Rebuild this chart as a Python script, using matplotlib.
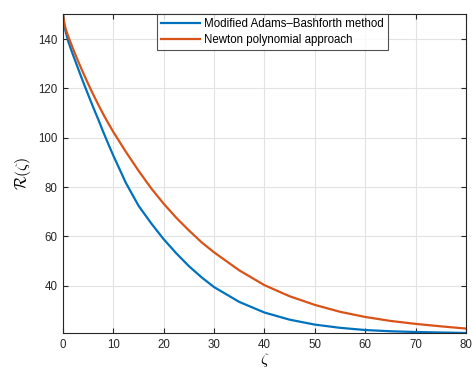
import matplotlib
matplotlib.use("Agg")
import matplotlib.pyplot as plt

plt.rcParams['font.family'] = ['Liberation Sans', 'DejaVu Sans']
plt.rcParams['mathtext.fontset'] = 'cm'

zeta = [0, 0.25, 0.5, 1, 1.5, 2, 3, 4, 5, 6, 7, 8, 9, 10, 12.5, 15, 17.5, 20, 22.5,
        25, 27.5, 30, 35, 40, 45, 50, 55, 60, 65, 70, 75, 80]
blue_vals = [150, 145.8, 143.2, 139.3, 136.3, 133.5, 128.0, 122.6, 117.4, 112.3, 107.4,
             102.3, 97.4, 92.7, 81.6, 72.4, 65.3, 58.8, 53.1, 47.9, 43.4, 39.4, 33.4,
             29.1, 26.2, 24.2, 22.9, 22.0, 21.5, 21.2, 21.0, 20.8]
orange_vals = [150, 146.5, 144.3, 141.3, 138.6, 136.0, 131.0, 126.3, 121.8, 117.5, 113.4,
               109.5, 105.8, 102.3, 94.2, 86.6, 79.5, 73.2, 67.5, 62.4, 57.6, 53.5, 46.2,
               40.2, 35.7, 32.2, 29.4, 27.3, 25.7, 24.5, 23.5, 22.6]
labels = ['Modified Adams\u2013Bashforth method', 'Newton polynomial approach']
xticks = [0, 10, 20, 30, 40, 50, 60, 70, 80]
yticks = [40, 60, 80, 100, 120, 140]

fig = plt.figure(figsize=(4.72, 3.69), dpi=100)
ax = fig.add_axes([0.1335, 0.0976, 0.8535, 0.8634])

ax.plot(zeta, blue_vals, color='#0072BD', lw=1.6, label=labels[0])
ax.plot(zeta, orange_vals, color='#D95319', lw=1.6, label=labels[1])

ax.set_xlim(0, 80)
ax.set_ylim(20.8, 150)
ax.set_xticks(xticks)
ax.set_yticks(yticks)
ax.grid(True, color='#e3e3e3', lw=0.8)
ax.set_axisbelow(True)
for s in ax.spines.values():
    s.set_color('#262626')
    s.set_linewidth(0.8)
ax.tick_params(direction='in', top=True, right=True, length=3.5, width=0.8,
               colors='#262626', labelsize=8.3, pad=4)

ax.set_xlabel(r'$\zeta$', fontsize=11.5, labelpad=0)
ax.set_ylabel(r'$\mathcal{R}(\zeta)$', fontsize=11.5, labelpad=4)

leg = ax.legend(loc='upper center', bbox_to_anchor=(0.52, 1.0), fontsize=8.3,
                frameon=True, fancybox=False, borderpad=0.35, handlelength=3.4,
                handletextpad=0.3, labelspacing=0.3, borderaxespad=0)
leg.get_frame().set_edgecolor('#262626')
leg.get_frame().set_linewidth(0.8)

fig.savefig('out.png', dpi=100)
